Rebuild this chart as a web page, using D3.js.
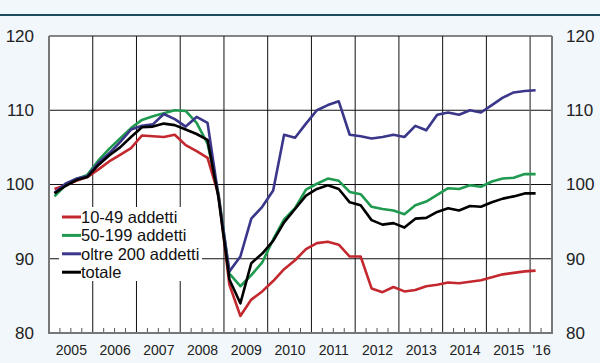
<!DOCTYPE html>
<html>
<head>
<meta charset="utf-8">
<script src="https://cdn.jsdelivr.net/npm/d3@7"></script>
<style>
  body { margin: 0; background: #f1f7fb; }
  svg text { font-family: Arial, 'Liberation Sans', sans-serif; }
</style>
</head>
<body>
<div id="svg_chart"></div>
<script>
///////////// Data //////////////
var quarters = [
  '2005Q1','2005Q2','2005Q3','2005Q4','2006Q1','2006Q2','2006Q3','2006Q4',
  '2007Q1','2007Q2','2007Q3','2007Q4','2008Q1','2008Q2','2008Q3','2008Q4',
  '2009Q1','2009Q2','2009Q3','2009Q4','2010Q1','2010Q2','2010Q3','2010Q4',
  '2011Q1','2011Q2','2011Q3','2011Q4','2012Q1','2012Q2','2012Q3','2012Q4',
  '2013Q1','2013Q2','2013Q3','2013Q4','2014Q1','2014Q2','2014Q3','2014Q4',
  '2015Q1','2015Q2','2015Q3','2015Q4','2016Q1'
];

var small_firms = [   // 10-49 addetti
  99.4, 99.9, 100.5, 101.0, 102.0, 103.1, 104.0, 104.9,
  106.6, 106.5, 106.4, 106.7, 105.3, 104.5, 103.6, 98.6,
  86.5, 82.3, 84.5, 85.6, 87.0, 88.6, 89.8, 91.3,
  92.1, 92.3, 91.9, 90.3, 90.3, 86.0, 85.5, 86.2,
  85.6, 85.8, 86.3, 86.5, 86.8, 86.7, 86.9, 87.1,
  87.5, 87.9, 88.1, 88.3, 88.4
];
var medium_firms = [  // 50-199 addetti
  98.4, 99.9, 100.7, 101.3, 103.2, 104.8, 106.2, 107.6,
  108.7, 109.2, 109.6, 110.0, 109.9, 108.3, 105.5, 98.8,
  88.0, 86.3, 87.8, 89.5, 92.6, 95.3, 96.8, 99.3,
  100.1, 100.8, 100.5, 99.0, 98.7, 97.0, 96.7, 96.5,
  96.0, 97.2, 97.7, 98.6, 99.5, 99.4, 99.9, 99.7,
  100.4, 100.8, 100.9, 101.4, 101.4
];
var large_firms = [   // oltre 200 addetti
  98.9, 100.1, 100.8, 101.1, 102.9, 104.2, 105.7, 107.4,
  107.9, 108.1, 109.5, 108.8, 107.8, 109.1, 108.3, 98.4,
  88.3, 90.3, 95.4, 97.0, 99.2, 106.7, 106.3, 108.2,
  110.0, 110.7, 111.2, 106.7, 106.5, 106.2, 106.4, 106.7,
  106.4, 107.9, 107.3, 109.4, 109.7, 109.4, 110.0, 109.7,
  110.7, 111.7, 112.4, 112.6, 112.7
];
var total = [         // totale
  98.8, 99.8, 100.6, 101.0, 102.6, 103.9, 105.0, 106.4,
  107.7, 107.8, 108.2, 108.0, 107.4, 106.8, 106.0, 98.2,
  87.2, 84.0, 89.4, 90.7, 92.4, 94.9, 96.7, 98.5,
  99.4, 99.9, 99.4, 97.6, 97.2, 95.2, 94.6, 94.8,
  94.2, 95.4, 95.5, 96.3, 96.8, 96.5, 97.1, 97.0,
  97.6, 98.1, 98.4, 98.8, 98.8
];

var series_names = ['10-49 addetti', '50-199 addetti', 'oltre 200 addetti', 'totale'];
var series_colors = ['#c3282f', '#1f9a50', '#3a3689', '#000000'];
var series_values = [small_firms, medium_firms, large_firms, total];

var y_ticks = [80, 90, 100, 110, 120];
var year_labels = ['2005','2006','2007','2008','2009','2010','2011','2012','2013','2014','2015',"'16"];

///////////// Layout //////////////
const svg_width = 600
const svg_height = 363
const plot_left = 49
const plot_right = 552
const plot_top = 36
const plot_bottom = 333

var svg = d3.select('#svg_chart').append('svg')
  .attr('width', svg_width)
  .attr('height', svg_height);

svg.append('rect')
  .attr('width', svg_width)
  .attr('height', svg_height)
  .attr('fill', '#f1f7fb');

// dark rule under the (cut off) title
svg.append('line')
  .attr('x1', 0).attr('x2', svg_width)
  .attr('y1', 15).attr('y2', 15)
  .attr('stroke', '#1d4c5c')
  .attr('stroke-width', 2);

var x_scale = d3.scaleLinear()
  .domain([2005, 2016.5])
  .range([plot_left, plot_right]);

var y_scale = d3.scaleLinear()
  .domain([80, 120])
  .range([plot_bottom, plot_top]);

function quarter_x(q){
  var year = +q.slice(0, 4);
  var n = +q.slice(5);
  return x_scale(year + (n - 0.5) / 4);
}

// plot background
svg.append('rect')
  .attr('x', plot_left)
  .attr('y', plot_top)
  .attr('width', plot_right - plot_left)
  .attr('height', plot_bottom - plot_top)
  .attr('fill', '#ffffff');

// horizontal grid
svg.append('g').selectAll('line')
  .data(y_ticks.slice(1))
  .join('line')
  .attr('x1', plot_left).attr('x2', plot_right)
  .attr('y1', d => y_scale(d)).attr('y2', d => y_scale(d))
  .attr('stroke', '#111')
  .attr('stroke-width', 1);

// vertical grid at year boundaries
var year_bounds = d3.range(2006, 2017);
svg.append('g').selectAll('line')
  .data(year_bounds)
  .join('line')
  .attr('x1', d => x_scale(d)).attr('x2', d => x_scale(d))
  .attr('y1', plot_top).attr('y2', plot_bottom)
  .attr('stroke', d => d == 2016 ? '#666' : '#111')
  .attr('stroke-width', d => d == 2016 ? 1.5 : 1);

// quarter ticks on the bottom axis
var quarter_bounds = d3.range(2005.25, 2016.5, 0.25).filter(d => d % 1 != 0);
svg.append('g').selectAll('line')
  .data(quarter_bounds)
  .join('line')
  .attr('x1', d => x_scale(d)).attr('x2', d => x_scale(d))
  .attr('y1', plot_bottom - 5).attr('y2', plot_bottom)
  .attr('stroke', '#555')
  .attr('stroke-width', 1);

// frame: grey left, bottom and right, thin black top
svg.append('path')
  .attr('d', `M${plot_left},${plot_top}V${plot_bottom}H${plot_right}V${plot_top}`)
  .attr('fill', 'none')
  .attr('stroke', '#777')
  .attr('stroke-width', 2);

///////////// Axes //////////////
var left_axis = svg.append('g')
  .attr('transform', `translate(${plot_left - 13},0)`)
  .call(d3.axisLeft(y_scale).tickValues(y_ticks).tickSize(0).tickPadding(2));
var right_axis = svg.append('g')
  .attr('transform', `translate(${plot_right + 12},0)`)
  .call(d3.axisRight(y_scale).tickValues(y_ticks).tickSize(0).tickPadding(2));
[left_axis, right_axis].forEach(function(ax){
  ax.select('.domain').remove();
  ax.selectAll('text')
    .attr('font-size', 17)
    .attr('fill', '#222');
});

var x_tick_values = d3.range(2005.5, 2016, 1).concat([2016.25]);
var bottom_axis = svg.append('g')
  .attr('transform', `translate(0,${plot_bottom})`)
  .call(d3.axisBottom(x_scale)
    .tickValues(x_tick_values)
    .tickSize(0)
    .tickPadding(12)
    .tickFormat((d, i) => year_labels[i]));
bottom_axis.select('.domain').remove();
bottom_axis.selectAll('text')
  .attr('font-size', 14)
  .attr('fill', '#222');

///////////// Lines //////////////
var line = d3.line()
  .x((d, i) => quarter_x(quarters[i]))
  .y(d => y_scale(d));

var draw_order = [1, 0, 2, 3];
draw_order.forEach(function(k){
  svg.append('path')
    .datum(series_values[k])
    .attr('d', line)
    .attr('fill', 'none')
    .attr('stroke', series_colors[k])
    .attr('stroke-width', 2.6)
    .attr('stroke-linejoin', 'round');
});

///////////// Legend //////////////
var legend = svg.append('g');
legend.append('rect')
  .attr('x', 59).attr('y', 207)
  .attr('width', 143).attr('height', 74)
  .attr('fill', '#ffffff');

var legend_rows = legend.selectAll('g.row')
  .data(series_names)
  .join('g')
  .attr('class', 'row')
  .attr('transform', (d, i) => `translate(0,${217 + i * 18.4})`);
legend_rows.append('line')
  .attr('x1', 62).attr('x2', 81)
  .attr('stroke', (d, i) => series_colors[i])
  .attr('stroke-width', 3);
legend_rows.append('text')
  .attr('x', 81)
  .attr('dy', '0.36em')
  .attr('font-size', 16.5)
  .attr('fill', '#111')
  .text(d => d);
</script>
</body>
</html>
